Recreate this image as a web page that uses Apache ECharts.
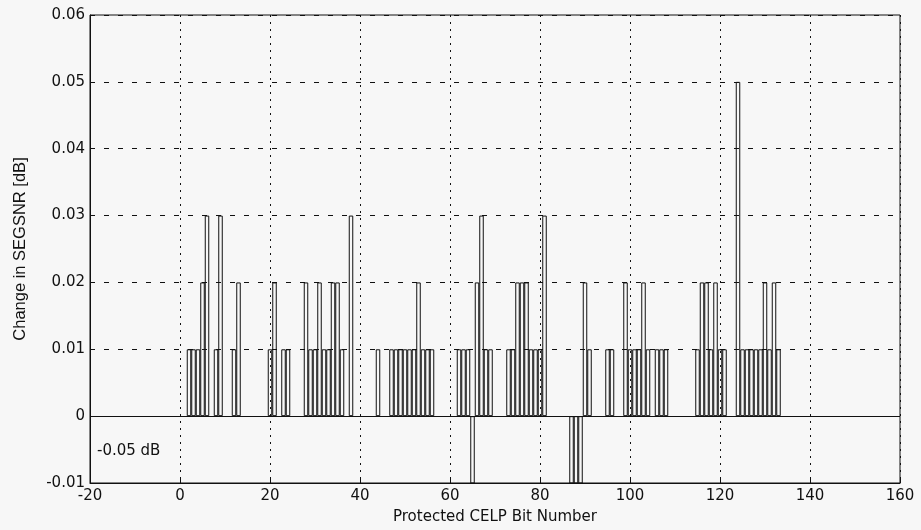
<!DOCTYPE html>
<html>
<head>
<meta charset="utf-8">
<title>Protected CELP bits - change in SEGSNR</title>
<script src="https://cdn.jsdelivr.net/npm/echarts@6/dist/echarts.min.js"></script>
<style>
  html, body { margin: 0; padding: 0; background: #f7f7f7; }
  #chart { width: 921px; height: 530px; }
</style>
</head>
<body>
<div id="chart"></div>
<script>
// bit numbers that show a change
const bitNumbers = [
  2, 3, 4, 5, 6, 8, 9, 12, 13,
  20, 21, 23, 24, 28, 29, 30, 31, 32, 33, 34, 35, 36, 38,
  44, 47, 48, 49, 50, 51, 52, 53, 54, 55, 56,
  62, 63, 64, 65, 66, 67, 68, 69,
  73, 74, 75, 76, 77, 78, 79, 80, 81,
  87, 88, 89, 90, 91, 95, 96,
  99, 100, 101, 102, 103, 104, 106, 107, 108,
  115, 116, 117, 118, 119, 120, 121,
  124, 125, 126, 127, 128, 129, 130, 131, 132, 133
];

// change in SEGSNR [dB] for each bit above (negative ones are -0.05 dB, off scale)
const segsnrChange = [
  0.01, 0.01, 0.01, 0.02, 0.03, 0.01, 0.03, 0.01, 0.02,
  0.01, 0.02, 0.01, 0.01, 0.02, 0.01, 0.01, 0.02, 0.01, 0.01, 0.02, 0.02, 0.01, 0.03,
  0.01, 0.01, 0.01, 0.01, 0.01, 0.01, 0.01, 0.02, 0.01, 0.01, 0.01,
  0.01, 0.01, 0.01, -0.05, 0.02, 0.03, 0.01, 0.01,
  0.01, 0.01, 0.02, 0.02, 0.02, 0.01, 0.01, 0.01, 0.03,
  -0.05, -0.05, -0.05, 0.02, 0.01, 0.01, 0.01,
  0.02, 0.01, 0.01, 0.01, 0.02, 0.01, 0.01, 0.01, 0.01,
  0.01, 0.02, 0.02, 0.01, 0.02, 0.01, 0.01,
  0.05, 0.01, 0.01, 0.01, 0.01, 0.01, 0.02, 0.01, 0.02, 0.01
];

const xTicks = [-20, 0, 20, 40, 60, 80, 100, 120, 140, 160];
const yTicks = [-0.01, 0, 0.01, 0.02, 0.03, 0.04, 0.05, 0.06];

const tickFont = "'DejaVu Sans', Arial, sans-serif";
const ink = "#111";

const chart = echarts.init(document.getElementById("chart"));

const option = {
  backgroundColor: "#f7f7f7",
  animation: false,
  grid: {
    left: 90,
    right: 21,
    top: 15,
    bottom: 47,
    show: true,
    borderColor: ink,
    borderWidth: 1,
    backgroundColor: "transparent"
  },
  xAxis: {
    type: "value",
    min: xTicks[0],
    max: xTicks[xTicks.length - 1],
    interval: 20,
    name: "Protected CELP Bit Number",
    nameLocation: "middle",
    nameGap: 27,
    nameTextStyle: { color: ink, fontFamily: tickFont, fontSize: 15 },
    axisLine: { onZero: false, lineStyle: { color: ink, width: 1 } },
    axisTick: { inside: true, length: 4, lineStyle: { color: ink } },
    axisLabel: { color: ink, fontFamily: tickFont, fontSize: 15, margin: 6 },
    splitLine: { show: true, lineStyle: { color: ink, type: [2, 5], width: 1 } }
  },
  yAxis: {
    type: "value",
    min: yTicks[0],
    max: yTicks[yTicks.length - 1],
    interval: 0.01,
    name: "Change in SEGSNR [dB]",
    nameLocation: "middle",
    nameGap: 61,
    nameTextStyle: { color: ink, fontFamily: "'Liberation Sans', Arial, sans-serif", fontSize: 16.5 },
    axisLine: { show: true, onZero: false, lineStyle: { color: ink, width: 1 } },
    axisTick: { inside: true, length: 4, lineStyle: { color: ink } },
    axisLabel: {
      color: ink,
      fontFamily: tickFont,
      fontSize: 15,
      margin: 5,
      formatter: (v) => (Math.abs(v) < 1e-9 ? "0" : v.toFixed(2))
    },
    splitLine: { show: true, lineStyle: { color: ink, type: [5, 9], width: 1 } }
  },
  series: [
    {
      name: "SEGSNR change",
      type: "bar",
      barWidth: "100%",
      clip: true,
      data: bitNumbers.map((b, i) => [b, segsnrChange[i]]),
      itemStyle: { color: "transparent", borderColor: ink, borderWidth: 1 },
      markLine: {
        silent: true,
        symbol: "none",
        label: { show: false },
        lineStyle: { color: ink, type: "solid", width: 1 },
        data: [{ yAxis: 0 }]
      }
    }
  ],
  graphic: [
    {
      type: "text",
      left: 97,
      top: 444,
      style: { text: "-0.05 dB", fill: ink, font: "15px 'DejaVu Sans', Arial, sans-serif" }
    }
  ]
};

chart.setOption(option);
</script>
</body>
</html>
